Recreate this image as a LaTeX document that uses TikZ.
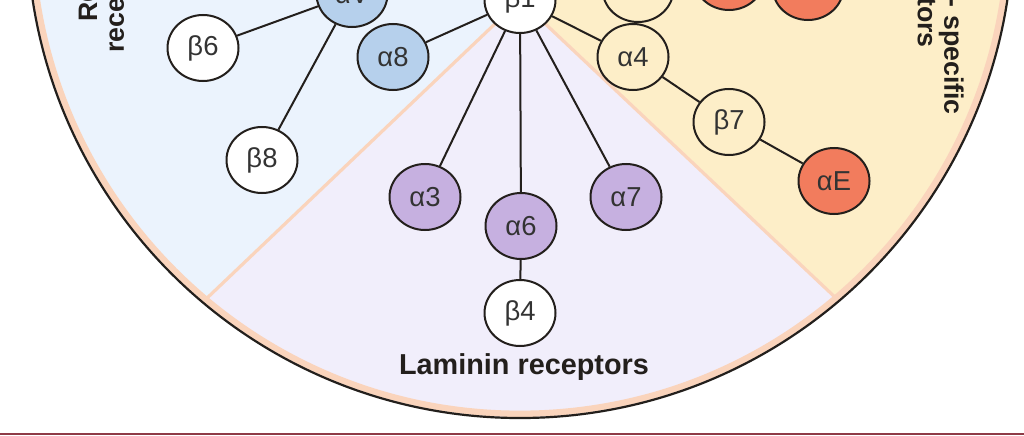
\documentclass[tikz,border=0pt]{standalone}
\usepackage{fontspec}
\setmainfont{Liberation Sans}
\usetikzlibrary{shapes.geometric}

\definecolor{rgdbg}{HTML}{EBF3FD}
\definecolor{lambg}{HTML}{F1EEFB}
\definecolor{leukbg}{HTML}{FDEEC8}
\definecolor{rgdfill}{HTML}{B6D0EC}
\definecolor{lamfill}{HTML}{C6B0E0}
\definecolor{leukfill}{HTML}{F27C5D}
\definecolor{peach}{HTML}{FAD4BC}
\definecolor{outl}{HTML}{231F1C}
\definecolor{barline}{HTML}{8E3A46}

\begin{document}
\begin{tikzpicture}[x=0.25mm, y=-0.25mm,
  integ/.style={ellipse, draw=outl, line width=0.5mm, minimum width=17.75mm,
    minimum height=16.5mm, inner sep=0pt, text=black!80,
    font=\fontsize{19.5}{20}\selectfont},
  lbl/.style={font=\bfseries\fontsize{19}{19}\selectfont, text=outl, align=center},
  link/.style={draw=outl, line width=0.5mm}]

\clip (0,0) rectangle (1024,435);
\fill[white] (0,0) rectangle (1024,435);

% sectors
\begin{scope}
\clip (520,-75) circle (123.25mm);
\fill[lambg] (520,0) -- (-425,900) -- (1474,900) -- cycle;
\fill[rgdbg] (520,0) -- (-425,900) -- (-425,-700) -- (520,-700) -- cycle;
\fill[leukbg] (520,0) -- (1474,900) -- (1474,-700) -- (520,-700) -- cycle;
\draw[peach, line width=0.8mm] (520,0) -- (-425,900);
\draw[peach, line width=0.8mm] (520,0) -- (1474,900);
\draw[peach, line width=1.6mm] (520,-75) circle (122.2mm);
\end{scope}
\draw[outl, line width=0.55mm] (520,-75) circle (123.25mm);

% labels
\node[lbl, rotate=90] (rgd) at (104,-8) {RGD\\receptors};
\node[lbl, rotate=-90] (leuk) at (938,-13) {Leukocyte - specific\\receptors};
\node[lbl, font=\bfseries\fontsize{20.5}{20}\selectfont] (lam) at (524,367) {Laminin receptors};

% integrins
\node[integ, fill=white] (b1) at (520,0) {β1};
\node[integ, fill=rgdfill] (av) at (352,-6) {αV};
\node[integ, fill=white] (b6) at (203,48) {β6};
\node[integ, fill=white] (b8) at (262,160) {β8};
\node[integ, fill=rgdfill] (a8) at (393,57) {α8};
\node[integ, fill=lamfill] (a3) at (425,197) {α3};
\node[integ, fill=lamfill] (a6) at (521,226) {α6};
\node[integ, fill=lamfill] (a7) at (626,197) {α7};
\node[integ, fill=white] (b4) at (520,313) {β4};
\node[integ, fill=leukbg] (a9) at (638,-11) {};
\node[integ, fill=leukfill] (al) at (729,-23) {};
\node[integ, fill=leukfill] (am) at (808,-13) {};
\node[integ, fill=leukbg] (a4) at (633,57) {α4};
\node[integ, fill=leukbg] (b7) at (729,122) {β7};
\node[integ, fill=leukfill] (ae) at (834,181) {αE};

% pairings
\foreach \a/\b in {av/b6, av/b8, b1/a8, b1/a3, b1/a6, b1/a7, b1/a9, b1/a4,
                   a4/b7, b7/ae, a6/b4} {
  \draw[link] (\a) -- (\b);
};

\draw[barline, line width=0.6mm] (0,433.7) -- (1024,433.7);

\end{tikzpicture}
\end{document}
